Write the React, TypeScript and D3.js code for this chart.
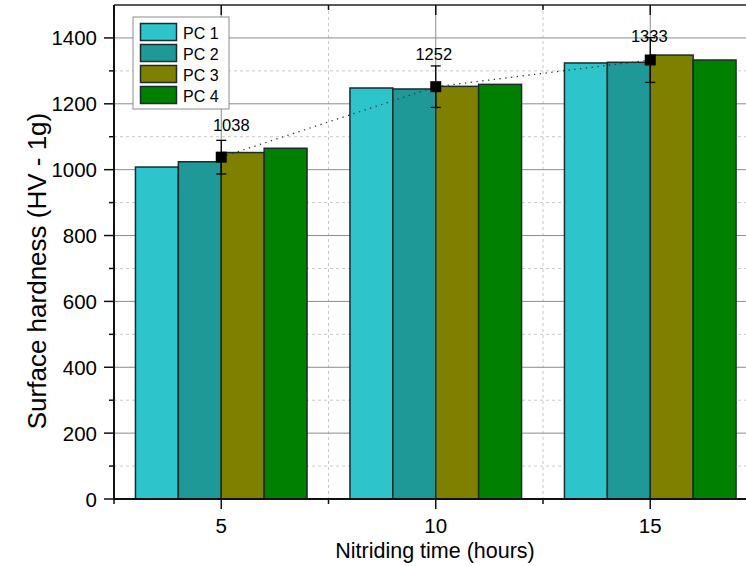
import React from "react";
import * as d3 from "d3";

const categories = [5, 10, 15];
const seriesNames = ["PC 1", "PC 2", "PC 3", "PC 4"];
const pc1 = [1008, 1248, 1324];
const pc2 = [1024, 1245, 1326];
const pc3 = [1052, 1253, 1348];
const pc4 = [1065, 1259, 1333];
const meanValues = [1038, 1252, 1333];
const errorValues = [51, 63, 68];
const yTicks = [0, 200, 400, 600, 800, 1000, 1200, 1400];
const yMinorTicks = [100, 300, 500, 700, 900, 1100, 1300];
const xTicks = [5, 10, 15];
const xMinorTicks = [2.5, 7.5, 12.5, 17.5];

const seriesValues = [pc1, pc2, pc3, pc4];
const colors = ["#2EC4CB", "#1F9898", "#808000", "#008000"];
const labelNudge = [
  { dx: 10, dy: -26 },
  { dx: -2, dy: -27 },
  { dx: -1, dy: -18 },
];

const W = 746;
const H = 566;
const FONT = "'Liberation Sans', Arial, sans-serif";

export default function App() {
  const x = d3.scaleLinear().domain([2.5, 17.5]).range([114, 757.5]);
  const y = d3.scaleLinear().domain([0, 1500]).range([499, 5]);
  const unit = x(1) - x(0);
  const left = x(2.5);
  const right = W;
  const top = y(1500);
  const bottom = y(0);

  const line = d3
    .line<number>()
    .x((_, i) => x(categories[i]))
    .y((d) => y(d));

  return (
    <svg
      width={W}
      height={H}
      style={{ position: "absolute", left: 0, top: 0, background: "#fff" }}
      fontFamily={FONT}
    >
      <rect x={0} y={0} width={W} height={H} fill="#fff" />
      <defs>
        <clipPath id="plot">
          <rect x={left} y={top} width={right - left} height={bottom - top} />
        </clipPath>
      </defs>
      <g clipPath="url(#plot)">
        {yMinorTicks.map((t) => (
          <line key={"ym" + t} x1={left} x2={right} y1={y(t)} y2={y(t)} stroke="#c8c8c8" strokeWidth={1} strokeDasharray="3,3" />
        ))}
        {xMinorTicks.map((t) => (
          <line key={"xm" + t} x1={x(t)} x2={x(t)} y1={top} y2={bottom} stroke="#c8c8c8" strokeWidth={1} strokeDasharray="3,3" />
        ))}
        {yTicks.slice(1).map((t) => (
          <line key={"yg" + t} x1={left} x2={right} y1={y(t)} y2={y(t)} stroke="#8c8c8c" strokeWidth={1} />
        ))}
        {xTicks.map((t) => (
          <line key={"xg" + t} x1={x(t)} x2={x(t)} y1={top} y2={bottom} stroke="#8c8c8c" strokeWidth={1} />
        ))}
        {seriesValues.map((vals, s) =>
          vals.map((v, i) => (
            <rect
              key={s + "-" + i}
              x={x(categories[i] - 2 + s)}
              y={y(v)}
              width={unit}
              height={bottom - y(v)}
              fill={colors[s]}
              stroke="#1c2b2b"
              strokeWidth={1.5}
            />
          ))
        )}
        <path d={line(meanValues) || ""} fill="none" stroke="#333" strokeWidth={1.3} strokeDasharray="1.3,4.5" />
        {meanValues.map((m, i) => {
          const cx = x(categories[i]);
          const e = errorValues[i];
          return (
            <g key={"e" + i} stroke="#000" strokeWidth={1.3}>
              <line x1={cx} x2={cx} y1={y(m + e)} y2={y(m - e)} />
              <line x1={cx - 5} x2={cx + 5} y1={y(m + e)} y2={y(m + e)} />
              <line x1={cx - 5} x2={cx + 5} y1={y(m - e)} y2={y(m - e)} />
            </g>
          );
        })}
        {meanValues.map((m, i) => (
          <rect key={"m" + i} x={x(categories[i]) - 5.5} y={y(m) - 5.5} width={11} height={11} fill="#000" />
        ))}
      </g>
      {meanValues.map((m, i) => (
        <text
          key={"l" + i}
          x={x(categories[i]) + labelNudge[i].dx}
          y={y(m) + labelNudge[i].dy}
          textAnchor="middle"
          fontSize={16.5}
          fill="#000"
        >
          {m}
        </text>
      ))}
      <line x1={left} x2={right} y1={top} y2={top} stroke="#222" strokeWidth={1.5} />
      <line x1={left} x2={right} y1={bottom} y2={bottom} stroke="#111" strokeWidth={2} />
      <line x1={left} x2={left} y1={top} y2={bottom + 1} stroke="#111" strokeWidth={2} />
      {xTicks.map((t) => (
        <g key={"xt" + t}>
          <line x1={x(t)} x2={x(t)} y1={bottom} y2={bottom + 10} stroke="#111" strokeWidth={1.5} />
          <line x1={x(t)} x2={x(t)} y1={top} y2={top + 10} stroke="#111" strokeWidth={1.5} />
          <text x={x(t)} y={533} textAnchor="middle" fontSize={20.5} fill="#000">
            {t}
          </text>
        </g>
      ))}
      {xMinorTicks.filter((t) => x(t) <= W).map((t) => (
        <g key={"xmt" + t}>
          <line x1={x(t)} x2={x(t)} y1={bottom} y2={bottom + 5} stroke="#111" strokeWidth={1.5} />
          <line x1={x(t)} x2={x(t)} y1={top} y2={top + 5} stroke="#111" strokeWidth={1.5} />
        </g>
      ))}
      {yTicks.map((t) => (
        <g key={"yt" + t}>
          <line x1={left - 10} x2={left} y1={y(t)} y2={y(t)} stroke="#111" strokeWidth={1.5} />
          <text x={97} y={y(t) + 7.5} textAnchor="end" fontSize={20.5} fill="#000">
            {t}
          </text>
        </g>
      ))}
      {yMinorTicks.map((t) => (
        <line key={"ymt" + t} x1={left - 5} x2={left} y1={y(t)} y2={y(t)} stroke="#111" strokeWidth={1.5} />
      ))}
      <text x={435} y={558} textAnchor="middle" fontSize={21.5} fill="#000">
        Nitriding time (hours)
      </text>
      <text
        transform={`translate(46,${(top + bottom) / 2 + 19}) rotate(-90)`}
        textAnchor="middle"
        fontSize={26}
        fill="#000"
      >
        Surface hardness (HV - 1g)
      </text>
      <g>
        <rect x={133} y={17} width={96} height={92} fill="#fff" stroke="#8c8c8c" strokeWidth={1} />
        {seriesNames.map((n, i) => (
          <g key={n}>
            <rect x={140.5} y={23.5 + i * 21} width={36} height={17} fill={colors[i]} stroke="#1c2b2b" strokeWidth={1.5} />
            <text x={183} y={38.5 + i * 21} fontSize={16} fill="#000">
              {n}
            </text>
          </g>
        ))}
      </g>
    </svg>
  );
}
